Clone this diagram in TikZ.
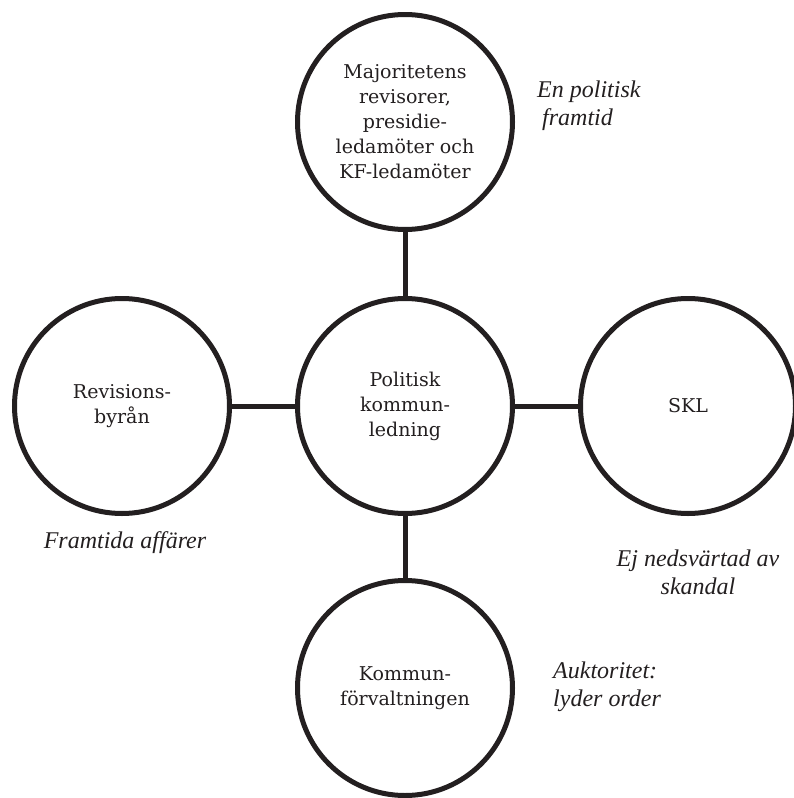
\documentclass[tikz,border=0pt]{standalone}
\usepackage{fontspec}
\setmainfont{DejaVu Serif}
\newfontfamily\annfont{Liberation Serif}
\definecolor{ink}{HTML}{231F20}
\begin{document}
\begin{tikzpicture}[x=1pt,y=-1pt,
  circ/.style={circle,draw=ink,line width=5pt,minimum size=215pt,inner sep=0pt,
    align=center,text=ink,font=\fontsize{19}{25}\selectfont},
  conn/.style={draw=ink,line width=5pt},
  ann/.style={text=ink,inner sep=0pt,font=\annfont\itshape\fontsize{24}{28}\selectfont}]
\useasboundingbox (0,0) rectangle (794,798);
\node[circ] (top) at (405,122) {Majoritetens\\revisorer,\\presidie-\\ledamöter och\\KF-ledamöter};
\node[circ] (mid) at (405,406) {Politisk\\kommun-\\ledning};
\node[circ] (left) at (122,406) {Revisions-\\byrån};
\node[circ] (right) at (688,406) {SKL};
\node[circ] (bot) at (405,688) {Kommun-\\förvaltningen};
\draw[conn] (top) -- (mid);
\draw[conn] (left) -- (mid);
\draw[conn] (mid) -- (right);
\draw[conn] (mid) -- (bot);
\node[ann,anchor=west,align=left] (a1) at (537,106) {En politisk\\\hspace{5pt}framtid};
\node[ann] (a2) at (125,543) {Framtida affärer};
\node[ann,align=center] (a3) at (698,572) {Ej nedsvärtad av\\skandal};
\node[ann,anchor=west,align=left] (a4) at (553,687) {Auktoritet:\\lyder order};
\end{tikzpicture}
\end{document}
